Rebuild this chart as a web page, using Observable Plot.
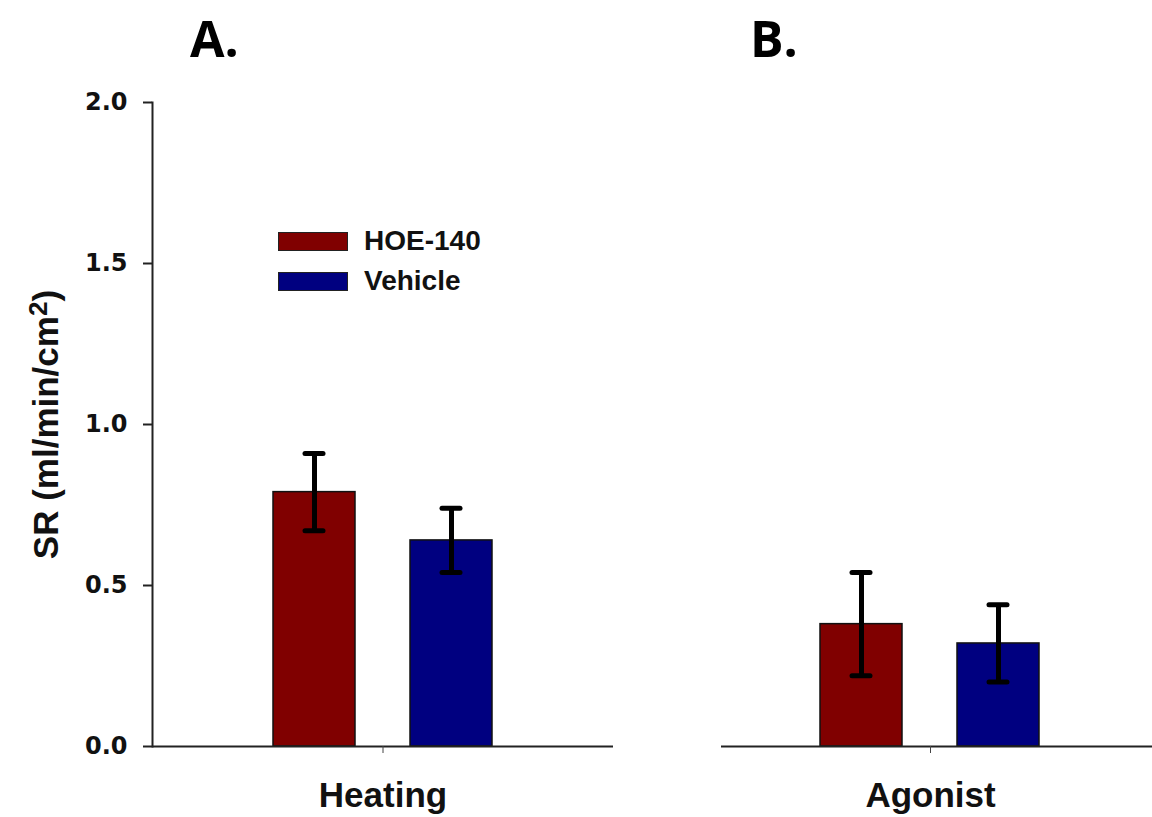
<!DOCTYPE html>
<html>
<head>
<meta charset="utf-8">
<script src="https://cdn.jsdelivr.net/npm/d3@7"></script>
<script src="https://cdn.jsdelivr.net/npm/@observablehq/plot@0.6"></script>
<style>
  html, body { margin: 0; padding: 0; background: #fff; }
  #wrap { position: relative; width: 1152px; height: 817px; overflow: hidden; background: #fff; }
  .panel { position: absolute; top: 0; }
  .ptitle { position: absolute; font-family: "Open Sans", sans-serif; font-weight: bold; font-size: 50px; line-height: 50px; color: #000; }
  .legend { position: absolute; left: 278px; top: 221px; font-family: "Liberation Sans", Arial, sans-serif; font-weight: bold; font-size: 28px; color: #111; }
  .legend .row { display: flex; align-items: center; height: 40px; }
  .legend .sw { width: 68px; height: 17px; border: 1.5px solid #222; margin-right: 16px; }
</style>
</head>
<body>
<div id="wrap">
  <div class="ptitle" style="left:190px; top:13px;">A.</div>
  <div class="ptitle" style="left:750px; top:13px;">B.</div>
  <div id="panelA" class="panel" style="left:0px;"></div>
  <div id="panelB" class="panel" style="left:640px;"></div>
  <div class="legend" id="legend"></div>
</div>
<script>
// ---- data ----
const groups = ["Heating", "Agonist"];
const treatments = ["HOE-140", "Vehicle"];
const colors = ["#800000", "#000080"];
const heatingMeans = [0.79, 0.64];
const heatingErrors = [0.12, 0.10];
const agonistMeans = [0.38, 0.32];
const agonistErrors = [0.16, 0.12];
const yTicks = [0, 0.5, 1.0, 1.5, 2.0];
const yLabel = "SR (ml/min/cm2)";

function rows(group, means, errs) {
  return treatments.map((t, i) => ({
    group, treatment: t, mean: means[i], lo: means[i] - errs[i], hi: means[i] + errs[i]
  }));
}

function panel({group, data, width, marginLeft, marginRight, paddingOuter, showY, extendRight}) {
  const marks = [
    Plot.barY(data, {fx: "group", x: "treatment", y: "mean", fill: "treatment", stroke: "#111", strokeWidth: 1.5}),
    Plot.ruleX(data, {fx: "group", x: "treatment", y1: "lo", y2: "hi", stroke: "#000", strokeWidth: 5}),
    Plot.tickY(data, {fx: "group", x: "treatment", y: "hi", stroke: "#000", strokeWidth: 5, strokeLinecap: "round", insetLeft: 32, insetRight: 32}),
    Plot.tickY(data, {fx: "group", x: "treatment", y: "lo", stroke: "#000", strokeWidth: 5, strokeLinecap: "round", insetLeft: 32, insetRight: 32}),
    Plot.ruleY([0], {stroke: "#222", strokeWidth: 2, insetRight: -extendRight}),
    Plot.axisFx({anchor: "bottom", tickSize: 7, tickPadding: 29, fontSize: 35, label: null, stroke: "#444"})
  ];
  if (showY) {
    marks.push(
      Plot.frame({anchor: "left", stroke: "#222", strokeWidth: 2}),
      Plot.axisY({ticks: yTicks, tickFormat: d3.format(".1f"), tickSize: 9, tickPadding: 16,
                  fontSize: 24, fontFamily: "DejaVu Sans", fontWeight: 900, label: null, strokeWidth: 2, stroke: "#222"}),
      Plot.text([yLabel], {frameAnchor: "left", rotate: -90, dx: -106, fontSize: 35, textAnchor: "middle", className: "ylab"})
    );
  }
  return Plot.plot({
    width, height: 817,
    marginTop: 102, marginBottom: 71, marginLeft, marginRight,
    style: {fontFamily: "'Liberation Sans', Arial, sans-serif", fontWeight: "bold", color: "#111", background: "transparent", overflow: "visible"},
    fx: {domain: [group], padding: 0},
    x: {domain: treatments, paddingInner: 0.3986, paddingOuter, axis: null},
    y: {domain: [0, 2], axis: null},
    color: {domain: treatments, range: colors},
    marks
  });
}

const svgA = panel({
  group: groups[0], data: rows(groups[0], heatingMeans, heatingErrors),
  width: 640, marginLeft: 152, marginRight: 27, paddingOuter: 0.8696, showY: true, extendRight: 0
});
document.getElementById("panelA").appendChild(svgA);
document.getElementById("panelB").appendChild(panel({
  group: groups[1], data: rows(groups[1], agonistMeans, agonistErrors),
  width: 512, marginLeft: 81, marginRight: 13, paddingOuter: 0.714, showY: false, extendRight: 13
}));

// superscript the "2" in the y label
svgA.querySelectorAll(".ylab text, g.ylab text, text").forEach(t => {
  if (t.textContent === yLabel) {
    t.textContent = "";
    const ns = "http://www.w3.org/2000/svg";
    const a = document.createElementNS(ns, "tspan"); a.textContent = "SR (ml/min/cm";
    const s = document.createElementNS(ns, "tspan"); s.textContent = "2";
    s.setAttribute("dy", "-0.4em"); s.setAttribute("font-size", "0.75em");
    const c = document.createElementNS(ns, "tspan"); c.textContent = ")";
    c.setAttribute("dy", "0.3em");
    t.appendChild(a); t.appendChild(s); t.appendChild(c);
  }
});

// legend
const leg = document.getElementById("legend");
treatments.forEach((t, i) => {
  const r = document.createElement("div");
  r.className = "row";
  const sw = document.createElement("div");
  sw.className = "sw";
  sw.style.background = colors[i];
  const lab = document.createElement("span");
  lab.textContent = t;
  r.appendChild(sw); r.appendChild(lab);
  leg.appendChild(r);
});
</script>
</body>
</html>
